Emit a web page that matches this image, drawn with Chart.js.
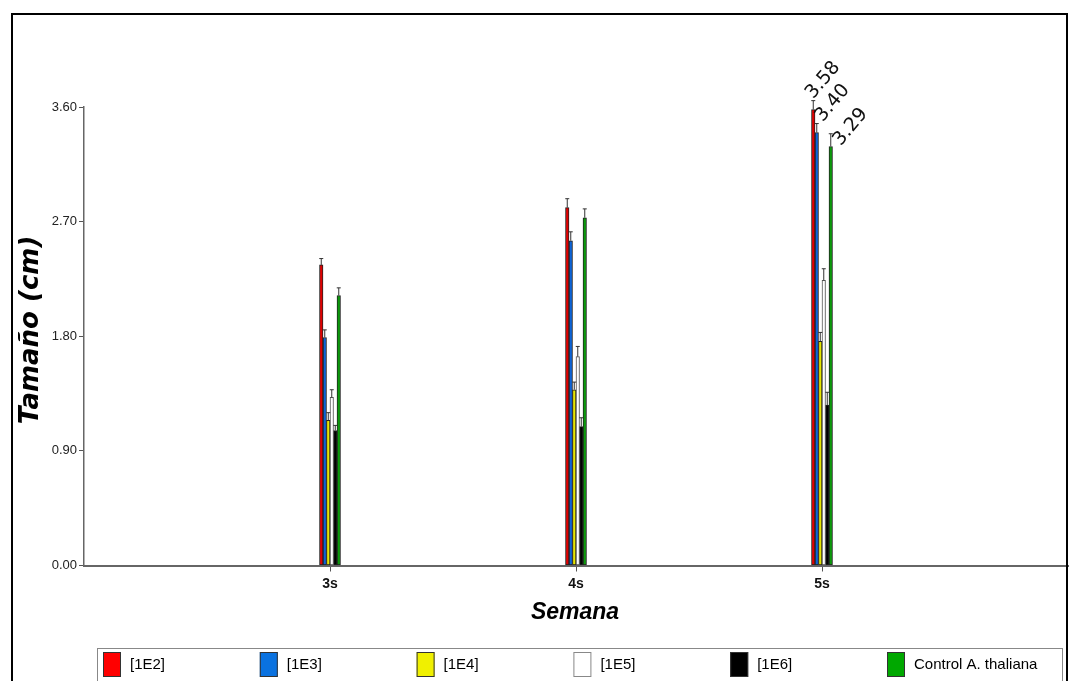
<!DOCTYPE html>
<html>
<head>
<meta charset="utf-8">
<script src="https://cdn.jsdelivr.net/npm/chart.js@4/dist/chart.umd.min.js"></script>
<style>
html,body{margin:0;padding:0;background:#fff;}
#wrap{position:relative;width:1072px;height:681px;}
</style>
</head>
<body>
<div id="wrap"><canvas id="c" width="1072" height="681"></canvas></div>
<script>
// ---- data ----
const categories = ['3s', '4s', '5s'];
const seriesNames = ['[1E2]', '[1E3]', '[1E4]', '[1E5]', '[1E6]', 'Control A. thaliana'];
const v1E2 = [2.36, 2.81, 3.58];
const v1E3 = [1.79, 2.55, 3.40];
const v1E4 = [1.14, 1.38, 1.76];
const v1E5 = [1.32, 1.64, 2.24];
const v1E6 = [1.06, 1.09, 1.26];
const vControl = [2.12, 2.73, 3.29];
const e1E2 = [0.05, 0.07, 0.07];
const e1E3 = [0.06, 0.07, 0.07];
const e1E4 = [0.06, 0.06, 0.07];
const e1E5 = [0.06, 0.08, 0.09];
const e1E6 = [0.04, 0.07, 0.10];
const eControl = [0.06, 0.07, 0.10];
const yTicks = [0, 0.9, 1.8, 2.7, 3.6];
const labelledCategory = '5s';
const labelledSeries = ['[1E2]', '[1E3]', 'Control A. thaliana'];

const fillColors = ['#e00000', '#0c63d6', '#e6e600', '#ffffff', '#000000', '#0a9a0a'];
const legendColors = ['#ff0000', '#0a72e0', '#f0f000', '#ffffff', '#000000', '#00a800'];

// padded category axis (empty slot before and after)
const axisLabels = [''].concat(categories).concat(['']);
const pad = arr => [null].concat(arr).concat([null]);
const values = [v1E2, v1E3, v1E4, v1E5, v1E6, vControl];
const errors = [e1E2, e1E3, e1E4, e1E5, e1E6, eControl];

const datasets = seriesNames.map((n, i) => ({
  label: n,
  data: pad(values[i]),
  errs: pad(errors[i]),
  backgroundColor: fillColors[i],
  borderColor: i === 3 ? '#555' : '#222',
  borderWidth: 1,
  barThickness: 3.5,
  borderSkipped: false
}));

const NARROW = '"Liberation Sans Narrow", "Liberation Sans", Arial, sans-serif';
// label nudges (pixels) relative to bar top, per labelled series
const labelNudge = { '[1E2]': [0, -10], '[1E3]': [6, -10], 'Control A. thaliana': [10, 0] };

const decoPlugin = {
  id: 'deco',
  afterDatasetsDraw(chart) {
    const ctx = chart.ctx;
    const ys = chart.scales.y;
    // error bars
    chart.data.datasets.forEach((ds, di) => {
      const meta = chart.getDatasetMeta(di);
      meta.data.forEach((el, idx) => {
        const v = ds.data[idx];
        if (v === null || v === undefined) return;
        const e = ds.errs[idx];
        const yt = ys.getPixelForValue(v + e);
        ctx.save();
        ctx.strokeStyle = '#333';
        ctx.lineWidth = 1;
        ctx.beginPath();
        ctx.moveTo(el.x, el.y);
        ctx.lineTo(el.x, yt);
        ctx.moveTo(el.x - 2, yt);
        ctx.lineTo(el.x + 2, yt);
        ctx.stroke();
        ctx.restore();
      });
    });
    // value labels
    const ci = axisLabels.indexOf(labelledCategory);
    chart.data.datasets.forEach((ds, di) => {
      if (labelledSeries.indexOf(ds.label) < 0) return;
      const el = chart.getDatasetMeta(di).data[ci];
      const v = ds.data[ci];
      const nd = labelNudge[ds.label];
      ctx.save();
      ctx.translate(el.x + nd[0], el.y + nd[1]);
      ctx.rotate(-50 * Math.PI / 180);
      ctx.font = '19px "DejaVu Sans", sans-serif';
      ctx.fillStyle = '#111';
      ctx.textAlign = 'left';
      ctx.textBaseline = 'alphabetic';
      ctx.fillText(v.toFixed(2), 0, 0);
      ctx.restore();
    });
  },
  afterDraw(chart) {
    const ctx = chart.ctx;
    ctx.save();
    // frame
    ctx.strokeStyle = '#000';
    ctx.lineWidth = 2;
    ctx.beginPath();
    ctx.moveTo(12, 681);
    ctx.lineTo(12, 14);
    ctx.lineTo(1067, 14);
    ctx.lineTo(1067, 681);
    ctx.stroke();
    // axis titles
    ctx.fillStyle = '#000';
    ctx.font = 'italic bold 23px "Liberation Sans", Arial, sans-serif';
    ctx.textAlign = 'center';
    ctx.textBaseline = 'middle';
    ctx.fillText('Semana', 575, 613);
    ctx.save();
    ctx.translate(31, 330);
    ctx.rotate(-Math.PI / 2);
    ctx.font = 'italic bold 26px "DejaVu Sans", sans-serif';
    ctx.fillText('Tamaño (cm)', 0, 0);
    ctx.restore();
    // legend
    ctx.strokeStyle = '#888';
    ctx.lineWidth = 1;
    ctx.strokeRect(97.5, 648.5, 965, 40);
    const x0 = 103, step = 156.8;
    chart.data.datasets.forEach((ds, i) => {
      const bx = x0 + i * step;
      ctx.fillStyle = legendColors[i];
      ctx.fillRect(bx, 652, 18, 25);
      ctx.strokeStyle = i === 3 ? '#888' : '#333';
      ctx.lineWidth = 1;
      ctx.strokeRect(bx + 0.5, 652.5, 17, 24);
      ctx.fillStyle = '#000';
      ctx.font = '15px ' + NARROW;
      ctx.textAlign = 'left';
      ctx.textBaseline = 'middle';
      ctx.fillText(ds.label, bx + 27, 665);
    });
    ctx.restore();
  }
};

new Chart(document.getElementById('c'), {
  type: 'bar',
  data: { labels: axisLabels, datasets: datasets },
  plugins: [decoPlugin],
  options: {
    responsive: false,
    animation: false,
    layout: { padding: { top: 107, right: 4, left: 0, bottom: 0 } },
    plugins: { legend: { display: false }, tooltip: { enabled: false } },
    scales: {
      x: {
        offset: false,
        afterFit(s) { s.height = 115.5; },
        grid: {
          offset: false,
          drawOnChartArea: false,
          tickLength: 6,
          tickColor: c => (c.tick && c.tick.label) ? '#555' : 'rgba(0,0,0,0)'
        },
        border: { color: '#666', width: 2 },
        ticks: {
          autoSkip: false,
          maxRotation: 0,
          padding: 4,
          color: '#111',
          font: { family: NARROW, size: 14, weight: 'bold' }
        }
      },
      y: {
        min: 0,
        max: 3.6,
        afterFit(s) { s.width = 84; },
        afterBuildTicks(s) { s.ticks = yTicks.map(v => ({ value: v })); },
        grid: { drawOnChartArea: false, tickLength: 5, tickColor: '#555' },
        border: { color: '#666', width: 1.5 },
        ticks: {
          padding: 2,
          color: '#222',
          font: { family: NARROW, size: 13 },
          callback: v => Number(v).toFixed(2)
        }
      }
    }
  }
});
</script>
</body>
</html>
